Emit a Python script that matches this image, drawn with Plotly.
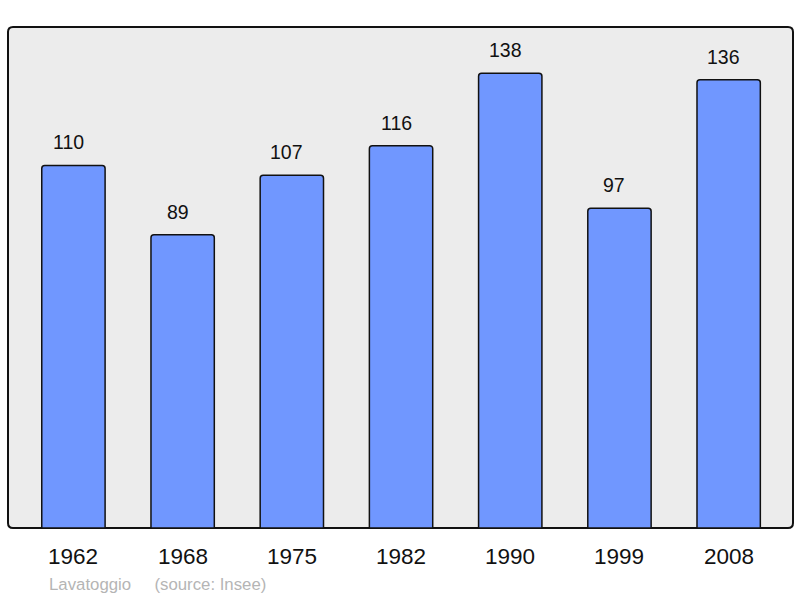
import plotly.graph_objects as go

years = ["1962", "1968", "1975", "1982", "1990", "1999", "2008"]
population = [110, 89, 107, 116, 138, 97, 136]

W, H = 800, 598
L, R, T, B = 9, 8, 27, 70
pw, ph = W - L - R, H - T - B

fig = go.Figure()
xs = list(range(len(years)))
fig.add_trace(go.Bar(
    x=xs, y=population, width=0.58,
    marker=dict(color="#7097ff", line=dict(color="#111111", width=1.5), cornerradius=3),
    hoverinfo="skip",
))

font = "Liberation Sans, Arial, sans-serif"
ann = []
for i, (yr, v) in enumerate(zip(years, population)):
    ann.append(dict(x=i, y=v, xref="x", yref="y", text=str(v), showarrow=False,
                    yshift=23, xshift=-5, yanchor="middle", font=dict(size=19.5, color="#111111", family=font)))
    ann.append(dict(x=i, y=0, xref="x", yref="paper", text=yr, showarrow=False,
                    yshift=-28, yanchor="middle", font=dict(size=22.5, color="#111111", family=font)))
ann.append(dict(x=(47 - L) / pw, y=(H - B - 584) / ph, xref="paper", yref="paper",
                text="Lavatoggio     (source: Insee)",
                showarrow=False, xanchor="left", yanchor="middle",
                font=dict(size=16.8, color="#b5b5b5", family=font)))

rx, ry = 5 / pw, 5 / ph
x0, x1, y0, y1 = -1 / pw, 1 + 1 / pw, 0, 1
path = (f"M {x0+rx},{y0} L {x1-rx},{y0} Q {x1},{y0} {x1},{y0+ry} L {x1},{y1-ry} Q {x1},{y1} {x1-rx},{y1} "
        f"L {x0+rx},{y1} Q {x0},{y1} {x0},{y1-ry} L {x0},{y0+ry} Q {x0},{y0} {x0+rx},{y0} Z")

fig.update_layout(
    width=W, height=H, margin=dict(l=L, r=R, t=T, b=B),
    paper_bgcolor="white", plot_bgcolor="white",
    showlegend=False, annotations=ann,
    shapes=[dict(type="path", path=path, xref="paper", yref="paper", layer="below",
                 fillcolor="#ececec", line=dict(color="#111111", width=2))],
    xaxis=dict(range=[-0.59, 6.58], showticklabels=False, showgrid=False, zeroline=False, fixedrange=True),
    yaxis=dict(range=[0, 152], showticklabels=False, showgrid=False, zeroline=False, fixedrange=True),
)
fig.write_html("out.html", config={"displayModeBar": False},
               post_script="document.body.style.margin='0';document.body.style.overflow='hidden';")
